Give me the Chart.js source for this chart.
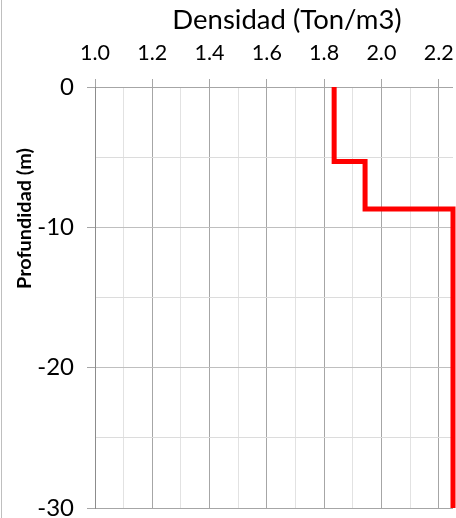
<!DOCTYPE html>
<html><head><meta charset="utf-8">
<script src="https://cdn.jsdelivr.net/npm/chart.js@4/dist/chart.umd.min.js"></script>
<style>html,body{margin:0;padding:0;background:#fff;overflow:hidden}#w{width:456px;height:518px;position:relative}</style>
</head><body><div id="w"><canvas id="c"></canvas></div>
<script>
// Data
const densidad = [1.835, 1.835, 1.943, 1.943, 2.25, 2.25];
const profundidad = [0, -5.3, -5.3, -8.7, -8.7, -30];
const xTickValues = [1.0, 1.1, 1.2, 1.3, 1.4, 1.5, 1.6, 1.7, 1.8, 1.9, 2.0, 2.1, 2.2];
const xMajorLabels = ['1.0', '1.2', '1.4', '1.6', '1.8', '2.0', '2.2'];
const yTickValues = [0, -5, -10, -15, -20, -25, -30];
const yMajorLabels = ['0', '-10', '-20', '-30'];
const xTitle = 'Densidad (Ton/m3)';
const yTitle = 'Profundidad (m)';

const FONT = 'Lato, "Open Sans", sans-serif';
const isMajorX = v => Math.round(v * 10) % 2 === 0;
const isMajorY = v => Math.round(v) % 10 === 0;

const leftBorder = {
  id: 'leftBorder',
  beforeDraw(chart) {
    const c = chart.ctx;
    c.save();
    c.strokeStyle = '#bfbfbf';
    c.lineWidth = 1;
    c.beginPath(); c.moveTo(1.5, 0); c.lineTo(1.5, chart.height); c.stroke();
    c.restore();
  }
};
const titlesPlugin = {
  id: 'titlesPlugin',
  afterDraw(chart) {
    const c = chart.ctx;
    // x axis title (top)
    c.save();
    c.font = '27.5px ' + FONT;
    c.fillStyle = '#000';
    c.textAlign = 'center';
    c.textBaseline = 'alphabetic';
    c.fillText(xTitle, 287, 29);
    c.restore();
    // y axis title (rotated)
    c.save();
    c.font = 'bold 18px ' + FONT;
    const w = c.measureText(yTitle).width;
    c.translate(25, 218.5);
    c.rotate(-Math.PI / 2);
    c.scale(141 / w, 1);
    c.fillStyle = '#000';
    c.textAlign = 'center';
    c.textBaseline = 'middle';
    c.fillText(yTitle, 0, 0);
    c.restore();
  }
};

new Chart(document.getElementById('c'), {
  type: 'scatter',
  data: {
    datasets: [{
      data: densidad.map((d, i) => ({ x: d, y: profundidad[i] })),
      showLine: true,
      borderColor: '#ff0000',
      borderWidth: 5,
      borderJoinStyle: 'miter',
      pointRadius: 0,
      fill: false,
      clip: false
    }]
  },
  plugins: [leftBorder, titlesPlugin],
  options: {
    responsive: true,
    maintainAspectRatio: false,
    animation: false,
    layout: { padding: { left: 0, right: 3, top: 0, bottom: 10 } },
    plugins: { legend: { display: false }, tooltip: { enabled: false } },
    scales: {
      x: {
        type: 'linear',
        position: 'top',
        min: 1.0,
        max: 2.25,
        afterBuildTicks: s => { s.ticks = xTickValues.map(v => ({ value: v })); },
        afterFit: s => { s.height = 87; s.paddingLeft = 0; s.paddingRight = 0; },
        ticks: {
          autoSkip: false,
          maxRotation: 0,
          padding: 13,
          color: '#000',
          font: { family: FONT, size: 21.5 },
          callback: v => { const l = v.toFixed(1); return xMajorLabels.includes(l) ? l : ''; }
        },
        grid: {
          color: ctx => ctx.tick && isMajorX(ctx.tick.value) ? '#a6a6a6' : '#e2e2e2',
          tickColor: ctx => ctx.tick && isMajorX(ctx.tick.value) ? '#a6a6a6' : 'rgba(0,0,0,0)',
          tickLength: 8,
          lineWidth: 1
        },
        border: { display: false }
      },
      y: {
        type: 'linear',
        min: -30,
        max: 0,
        afterBuildTicks: s => { s.ticks = yTickValues.map(v => ({ value: v })); },
        afterFit: s => { s.width = 95; s.paddingTop = 0; s.paddingBottom = 0; },
        ticks: {
          autoSkip: false,
          padding: 13,
          color: '#000',
          font: { family: FONT, size: 24 },
          callback: v => { const l = String(v); return yMajorLabels.includes(l) ? l : ''; }
        },
        grid: {
          color: ctx => {
            if (!ctx.tick) return '#d9d9d9';
            const v = ctx.tick.value;
            if (v === 0 || v === -30) return '#a6a6a6';
            return isMajorY(v) ? '#bfbfbf' : '#dcdcdc';
          },
          tickColor: ctx => ctx.tick && isMajorY(ctx.tick.value) ? '#a6a6a6' : 'rgba(0,0,0,0)',
          tickLength: 8,
          lineWidth: 1
        },
        border: { display: true, color: '#8c8c8c' }
      }
    }
  }
});
</script>
</body></html>
